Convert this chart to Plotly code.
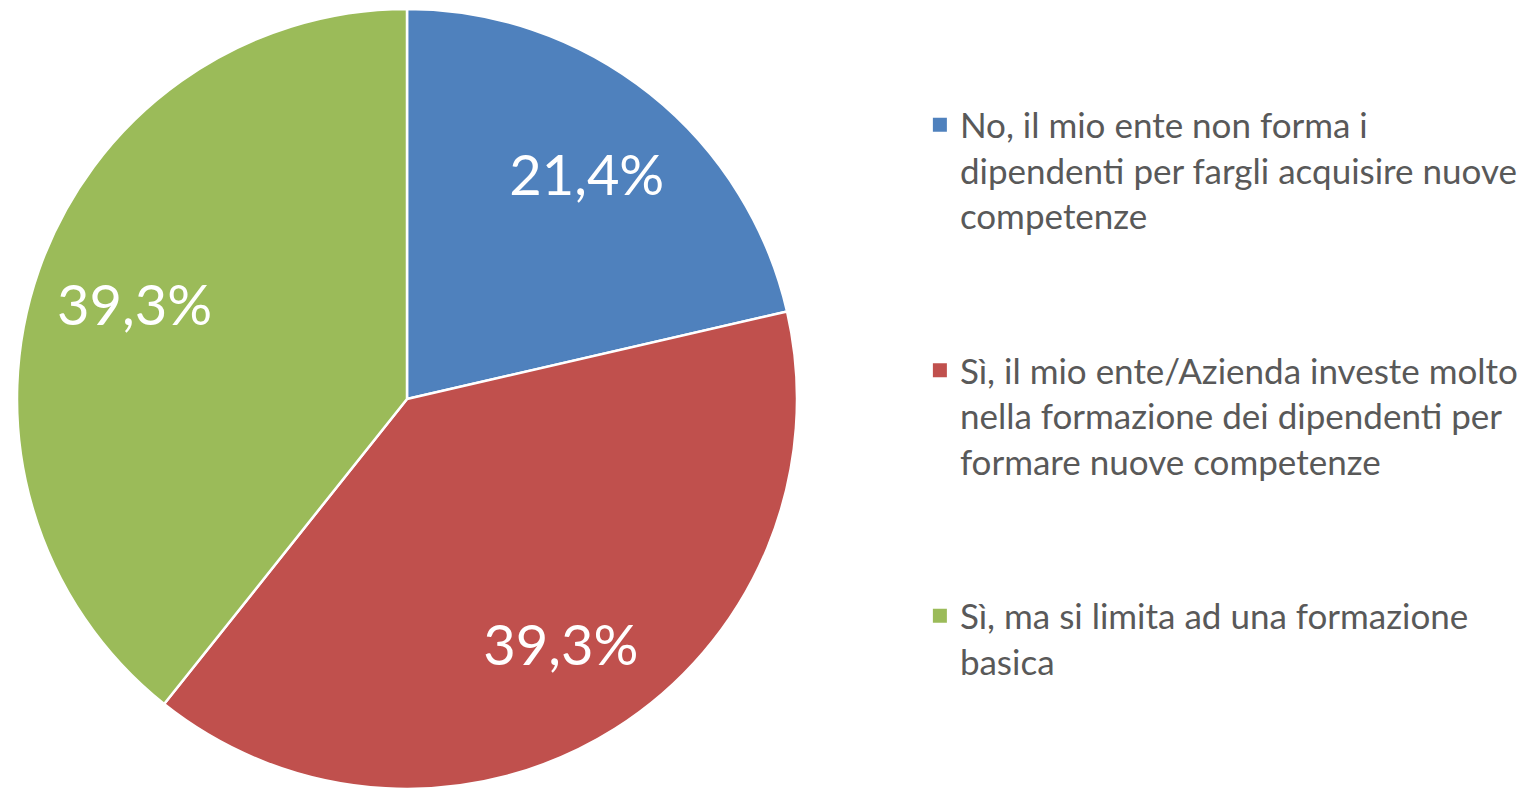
import plotly.graph_objects as go

labels = [
    "No, il mio ente non forma i<br>dipendenti per fargli acquisire nuove<br>competenze",
    "Sì, il mio ente/Azienda investe molto<br>nella formazione dei dipendenti per<br>formare nuove competenze",
    "Sì, ma si limita ad una formazione<br>basica",
]
values = [21.4, 39.3, 39.3]
colors = ["#4F81BD", "#C0504D", "#9BBB59"]

dom = dict(x=[9 / 1530, 789 / 1530], y=[7 / 788, 0.99 + 7 / 788])

fig = go.Figure()
# main pie (slices)
fig.add_trace(
    go.Pie(
        labels=labels,
        values=values,
        sort=False,
        direction="clockwise",
        rotation=0,
        marker=dict(colors=colors, line=dict(color="white", width=2.5)),
        textinfo="none",
        hoverinfo="skip",
        showlegend=False,
        domain=dom,
    )
)
# transparent ring carrying the value labels further out
fig.add_trace(
    go.Pie(
        labels=labels,
        values=values,
        sort=False,
        direction="clockwise",
        rotation=0,
        hole=0.48,
        marker=dict(colors=["rgba(0,0,0,0)"] * 3, line=dict(width=0)),
        texttemplate="%{value:.1f}%",
        textposition="inside",
        insidetextorientation="horizontal",
        insidetextfont=dict(color="white", size=56, family="Lato"),
        hoverinfo="skip",
        showlegend=False,
        domain=dom,
    )
)
# legend entries
for i, (lab, col) in enumerate(zip(labels, colors)):
    fig.add_trace(
        go.Scatter(
            x=[None],
            y=[None],
            mode="markers",
            marker=dict(symbol="square", size=14, color=col),
            name=lab,
            legendgroup=f"g{i}",
            showlegend=True,
            hoverinfo="skip",
        )
    )

fig.update_layout(
    width=1530,
    height=788,
    margin=dict(l=0, r=0, t=0, b=0),
    paper_bgcolor="white",
    plot_bgcolor="white",
    separators=",.",
    showlegend=True,
    xaxis=dict(visible=False),
    yaxis=dict(visible=False),
    legend=dict(
        x=0.596,
        y=0.889,
        xanchor="left",
        yanchor="top",
        valign="top",
        tracegroupgap=106,
        font=dict(family="Lato", size=35, color="#595959"),
        bgcolor="rgba(0,0,0,0)",
    ),
)

fig.write_html("out.html")
